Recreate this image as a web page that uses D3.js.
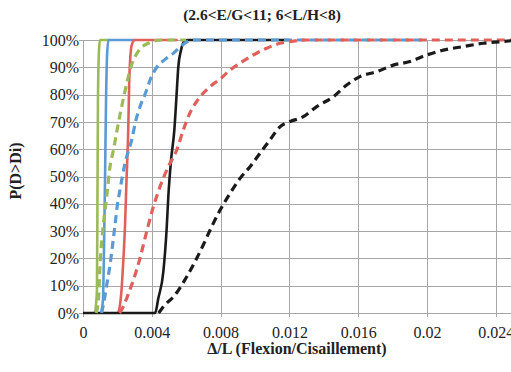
<!DOCTYPE html>
<html>
<head>
<meta charset="utf-8">
<script src="https://cdn.jsdelivr.net/npm/d3@7"></script>
<style>
  html, body { margin: 0; padding: 0; background: #fff; }
  svg { display: block; }
</style>
</head>
<body>
<svg id="chart" width="511" height="372"></svg>
<script>
// ---- Data ----
const titleText = "(2.6<E/G<11; 6<L/H<8)";
const xLabelText = "\u0394/L (Flexion/Cisaillement)";
const yLabelText = "P(D>Di)";

const xTickValues = [0, 0.004, 0.008, 0.012, 0.016, 0.02, 0.024];
const xTickLabels = ["0", "0.004", "0.008", "0.012", "0.016", "0.02", "0.024"];
const yTickValues = [0, 0.1, 0.2, 0.3, 0.4, 0.5, 0.6, 0.7, 0.8, 0.9, 1];
const yTickLabels = ["0%", "10%", "20%", "30%", "40%", "50%", "60%", "70%", "80%", "90%", "100%"];

// Solid series
const greenSolidX = [0.0007, 0.00081, 0.00084, 0.00087, 0.00093, 0.00099, 0.0015];
const greenSolidY = [0, 0.084, 0.41, 0.78, 0.963, 1, 1];

const blueSolidX = [0.00105, 0.00116, 0.00122, 0.00128, 0.00134, 0.0014, 0.00148, 0.003];
const blueSolidY = [0, 0.048, 0.23, 0.487, 0.78, 0.945, 1, 1];

const redSolidX = [0.00205, 0.00215, 0.00224, 0.00233, 0.00244, 0.00253, 0.00263, 0.00269, 0.00276, 0.00285, 0.00302, 0.0055];
const redSolidY = [0, 0.029, 0.084, 0.176, 0.316, 0.487, 0.67, 0.853, 0.945, 0.985, 1, 1];

const blackSolidX = [0, 0.00419, 0.00438, 0.00467, 0.00487, 0.00496, 0.00512, 0.00531, 0.00544, 0.00554, 0.0057, 0.00593, 0.0061, 0.012];
const blackSolidY = [0, 0, 0.054, 0.151, 0.316, 0.426, 0.56, 0.67, 0.799, 0.901, 0.963, 0.998, 1, 1];

// Dashed series
const greenDashX = [0.00076, 0.00089, 0.00099, 0.00118, 0.00138, 0.00157, 0.00177, 0.00198, 0.00221, 0.0024, 0.00262, 0.00282, 0.00308, 0.00337, 0.0038, 0.00419, 0.00465, 0.006];
const greenDashY = [0, 0.041, 0.176, 0.322, 0.426, 0.536, 0.597, 0.67, 0.744, 0.801, 0.861, 0.908, 0.945, 0.971, 0.988, 0.998, 1, 1];

const blueDashX = [0.00108, 0.00118, 0.00138, 0.00157, 0.00172, 0.00186, 0.002, 0.00215, 0.00244, 0.00283, 0.00308, 0.00331, 0.00363, 0.00395, 0.0043, 0.00477, 0.00525, 0.00564, 0.00599, 0.0064, 0.02];
const blueDashY = [0, 0.029, 0.103, 0.176, 0.249, 0.322, 0.396, 0.451, 0.548, 0.634, 0.707, 0.755, 0.805, 0.861, 0.901, 0.929, 0.951, 0.974, 0.991, 1, 1];

const redDashX = [0.00212, 0.00234, 0.00259, 0.00283, 0.00308, 0.00331, 0.00355, 0.0038, 0.00409, 0.00448, 0.00496, 0.00545, 0.00583, 0.00622, 0.0068, 0.00738, 0.00797, 0.00855, 0.00913, 0.0099, 0.01068, 0.01145, 0.01223, 0.0129, 0.025];
const redDashY = [0, 0.023, 0.062, 0.103, 0.15, 0.2, 0.26, 0.322, 0.389, 0.463, 0.536, 0.597, 0.67, 0.733, 0.791, 0.829, 0.857, 0.89, 0.915, 0.945, 0.97, 0.988, 0.996, 1, 1];

const blackDashX = [0.0044, 0.00467, 0.00535, 0.00603, 0.00651, 0.00699, 0.00748, 0.00797, 0.00855, 0.00913, 0.00971, 0.01029, 0.01087, 0.01145, 0.01203, 0.01281, 0.01359, 0.01455, 0.01533, 0.0161, 0.01708, 0.01804, 0.01901, 0.01998, 0.02095, 0.02211, 0.02327, 0.02434, 0.025];
const blackDashY = [0, 0.023, 0.066, 0.133, 0.188, 0.249, 0.316, 0.377, 0.438, 0.493, 0.536, 0.585, 0.634, 0.682, 0.701, 0.719, 0.756, 0.792, 0.835, 0.866, 0.884, 0.908, 0.921, 0.945, 0.963, 0.976, 0.988, 0.994, 0.998];

const seriesList = [
  { name: "greenSolid", xs: greenSolidX, ys: greenSolidY, color: "#9BBB59", dash: null },
  { name: "blueSolid", xs: blueSolidX, ys: blueSolidY, color: "#5B9BD5", dash: null },
  { name: "redSolid", xs: redSolidX, ys: redSolidY, color: "#E0605C", dash: null },
  { name: "blackSolid", xs: blackSolidX, ys: blackSolidY, color: "#1a1a1a", dash: null },
  { name: "greenDash", xs: greenDashX, ys: greenDashY, color: "#9BBB59", dash: "8,5" },
  { name: "blueDash", xs: blueDashX, ys: blueDashY, color: "#5B9BD5", dash: "8,5" },
  { name: "redDash", xs: redDashX, ys: redDashY, color: "#E0605C", dash: "8,5" },
  { name: "blackDash", xs: blackDashX, ys: blackDashY, color: "#1a1a1a", dash: "8,5" }
];

(function draw() {
  const svg = d3.select("#chart");
  const pLeft = 83, pRight = 513, pTop = 40, pBottom = 313;
  const x = d3.scaleLinear().domain([0, 0.025]).range([pLeft, pRight]);
  const y = d3.scaleLinear().domain([0, 1]).range([pBottom, pTop]);
  const serif = "Liberation Serif";
  const gridColor = "#a6a6a6";

  // Gridlines
  svg.append("g")
    .selectAll("line")
    .data(yTickValues)
    .join("line")
    .attr("x1", pLeft - 4).attr("x2", pRight)
    .attr("y1", d => Math.round(y(d)) + 0.5).attr("y2", d => Math.round(y(d)) + 0.5)
    .attr("stroke", gridColor).attr("stroke-width", 1);

  svg.append("g")
    .selectAll("line")
    .data(xTickValues)
    .join("line")
    .attr("x1", d => Math.round(x(d)) + 0.5).attr("x2", d => Math.round(x(d)) + 0.5)
    .attr("y1", pTop).attr("y2", pBottom + 4)
    .attr("stroke", gridColor).attr("stroke-width", 1);

  // Axes tick labels
  const xAxis = d3.axisBottom(x).tickValues(xTickValues)
    .tickFormat((d, i) => xTickLabels[i]).tickSize(0).tickPadding(14);
  const gx = svg.append("g").attr("transform", `translate(0,${pBottom})`).call(xAxis);
  gx.attr("font-family", null).attr("font-size", null);
  gx.select(".domain").remove();
  gx.selectAll("text").style("font-family", serif).style("font-size", "16px").attr("fill", "#222");

  const yAxis = d3.axisLeft(y).tickValues(yTickValues)
    .tickFormat((d, i) => yTickLabels[i]).tickSize(0).tickPadding(4);
  const gy = svg.append("g").attr("transform", `translate(${pLeft},0)`).call(yAxis);
  gy.attr("font-family", null).attr("font-size", null);
  gy.select(".domain").remove();
  gy.selectAll("text").style("font-family", serif).style("font-size", "16px").attr("fill", "#222");

  // Lines
  const line = d3.line().x(d => x(d[0])).y(d => y(d[1])).curve(d3.curveMonotoneX);
  const gLines = svg.append("g");
  seriesList.forEach(s => {
    const pts = s.xs.map((v, i) => [v, s.ys[i]]);
    gLines.append("path")
      .datum(pts)
      .attr("d", line)
      .attr("fill", "none")
      .attr("stroke", s.color)
      .attr("stroke-width", s.dash ? 3.2 : 2.6)
      .attr("stroke-dasharray", s.dash)
      .attr("stroke-linejoin", "round");
  });

  // Title and axis labels
  svg.append("text")
    .attr("x", 262).attr("y", 20)
    .attr("text-anchor", "middle")
    .style("font-family", serif).style("font-weight", "bold").style("font-size", "15.5px")
    .attr("fill", "#222")
    .text(titleText);

  svg.append("text")
    .attr("x", (pLeft + 511) / 2).attr("y", 354)
    .attr("text-anchor", "middle")
    .style("font-family", serif).style("font-weight", "bold").style("font-size", "16px")
    .attr("fill", "#222")
    .text(xLabelText);

  svg.append("text")
    .attr("transform", "translate(21,171) rotate(-90)")
    .attr("text-anchor", "middle")
    .style("font-family", serif).style("font-weight", "bold").style("font-size", "16px")
    .attr("fill", "#222")
    .text(yLabelText);
})();
</script>
</body>
</html>
